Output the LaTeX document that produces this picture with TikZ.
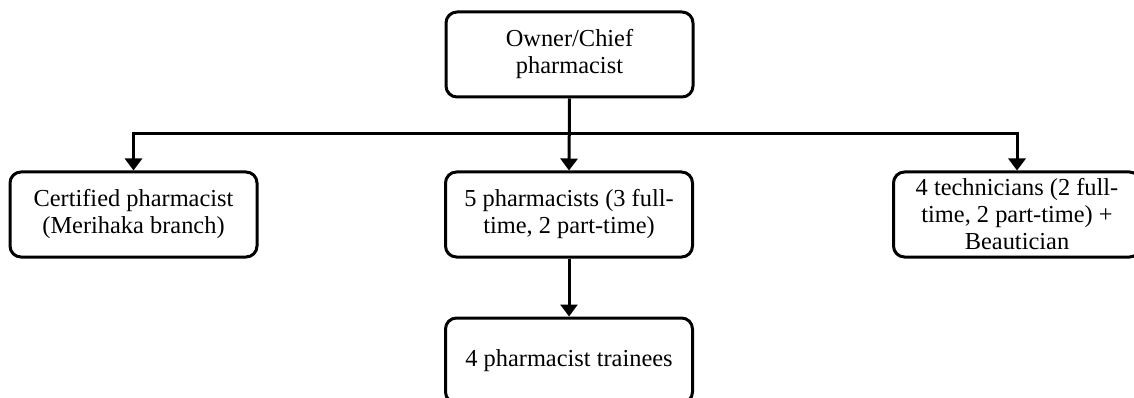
\documentclass[tikz,border=0pt]{standalone}
\usepackage{fontspec}
\setmainfont{Liberation Serif}
\usetikzlibrary{arrows.meta}
\begin{document}
\begin{tikzpicture}[x=1pt,y=-1pt,
  box/.style={draw=black, line width=3pt, rounded corners=11pt, minimum width=247pt, minimum height=85pt, align=center, inner sep=2pt, font=\fontsize{24.4pt}{27pt}\selectfont},
  conn/.style={line width=3pt, -{Triangle[width=17pt,length=12pt]}},
  plain/.style={line width=3pt}]
\useasboundingbox (0,0) rectangle (1134,398);
\node[box] (top) at (569.5,54.5) {Owner/Chief\\pharmacist};
\node[box] (left) at (133.5,214.5) {Certified pharmacist\\(Merihaka branch)};
\node[box] (mid) at (569,214.5) {5 pharmacists (3 full-\\time, 2 part-time)};
\node[box] (right) at (1017,214.5) {4 technicians (2 full-\\time, 2 part-time) +\\Beautician};
\node[box] (bot) at (569,360.5) {4 pharmacist trainees};
\coordinate (j) at (569.5,134);
\draw[conn] (top.south) -- (mid.north);
\draw[conn] (j) -| (left.north);
\draw[conn] (j) -| (right.north);
\draw[conn] (mid.south) -- (bot.north);
\end{tikzpicture}
\end{document}
